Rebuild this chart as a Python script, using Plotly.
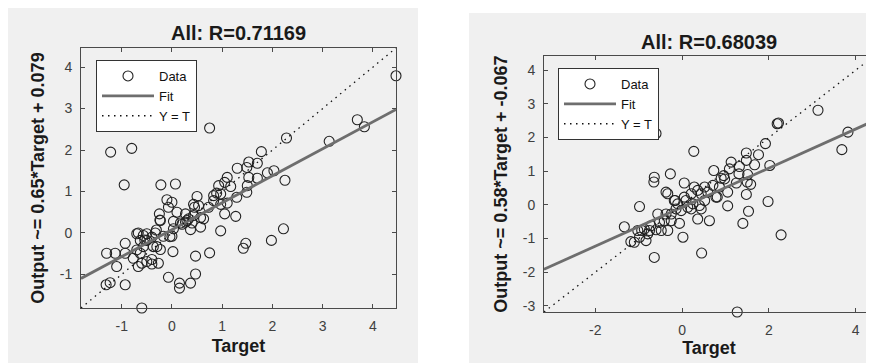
import plotly.graph_objects as go

# ---------------- data ----------------
left_title = "All: R=0.71169"
right_title = "All: R=0.68039"
left_ylabel = "Output ~= 0.65*Target + 0.079"
right_ylabel = "Output ~= 0.58*Target + -0.067"

left_slope, left_intercept = 0.65, 0.079
right_slope, right_intercept = 0.58, -0.067

left_limits = [-1.81, 4.46]
right_limits = [-3.18, 4.42]

left_target = [4.46, 3.69, 3.83, 3.13, 2.28, 0.75, -1.22, -0.80, -0.95, -0.22, 0.07, 1.78, 1.53, 1.70,
               1.49, 1.30, 1.90, 2.03, 2.25, 1.53, 1.70, 1.50, 1.49, 1.10, 1.05, 0.93, 0.89, 0.97, 0.83,
               1.10, 0.97, 1.05, 1.27, 0.97, 2.22, 1.98, 1.47, 1.42, 0.75, 0.47, 0.47, 0.37, 0.15, 0.15,
               -0.07, 0.02, -0.40, -0.27, -0.40, -0.60, -0.93, -1.23, -1.31, -1.10, -1.13, -1.30, -0.93,
               -0.93, -0.77, -0.67, -0.60, -0.50, -0.70, -0.63, -0.50, -0.57, -0.63, -0.70, -0.33, -0.30,
               -0.23, -0.17, 0.00, -0.25, -0.23, -0.10, 0.00, -0.07, 0.10, 0.03, 0.03, 0.27, 0.27, 0.33,
               0.40, 0.43, 0.43, 0.50, 0.53, 0.45, 0.37, 0.57, 0.57, 0.73, 0.20, -0.50, -0.57, -0.40,
               -0.37, 0.17, 0.30, 0.63, 1.29, 0.83, 1.17, -0.67, -0.54, -0.31, -0.04, -0.24]
left_output = [3.79, 2.73, 2.56, 2.21, 2.29, 2.53, 1.95, 2.04, 1.16, 1.16, 1.18, 1.96, 1.71, 1.68,
               1.58, 1.56, 1.45, 1.50, 1.27, 1.34, 1.32, 1.14, 0.98, 1.34, 1.22, 1.14, 0.96, 0.94, 0.90,
               0.72, 0.69, 0.46, 0.40, 0.05, 0.10, -0.18, -0.25, -0.37, -0.48, -0.56, -0.99, -1.21, -1.21,
               -1.33, -1.07, -0.45, -0.75, -0.73, -0.64, -1.81, -1.25, -1.20, -1.25, -0.81, -0.49, -0.49,
               -0.25, -0.49, -0.61, -0.81, -0.73, -0.69, -0.02, -0.18, -0.18, -0.33, -0.49, -0.41, 0.00,
               -0.33, -0.40, -0.08, -0.08, 0.46, 0.30, 0.80, 0.74, 0.62, 0.50, 0.28, 0.10, 0.46, 0.26,
               0.34, 0.24, 0.42, 0.69, 0.88, 0.66, 0.62, 0.08, 0.14, 0.37, 0.62, 0.21, -0.02, -0.06,
               -0.10, -0.33, 0.24, 0.30, 0.34, 0.86, 0.78, 1.12, 0.00, -0.17, 0.07, -0.09, 0.31]

right_target = [4.42, 3.82, 3.68, 3.13, 2.22, 2.19, 1.92, 2.02, 1.76, 1.48, 1.48, 1.67, 1.51, 1.58,
                1.50, 1.48, 1.53, 1.40, 1.98, 2.28, 1.27, 1.09, 0.96, 0.90, 0.98, 1.31, 0.73, 1.05,
                1.05, 0.81, 0.63, 0.45, 0.27, -0.60, -0.64, -0.65, -0.27, 0.05, -0.98, -1.33, -1.10,
                -1.18, -0.98, -1.02, -0.83, -0.64, 0.02, -0.06, 0.36, -0.33, -0.41, -0.72, -0.60, -0.75,
                -0.52, -0.56, -0.48, -0.25, -0.33, -0.37, -0.18, -0.10, 0.09, 0.21, 0.28, 0.36, 0.44,
                0.52, 0.52, 0.40, 0.25, 0.13, -0.02, -0.14, -0.25, -0.37, 0.21, 0.44, 0.59, 0.71, 0.78,
                0.86, -0.16, 0.05, -0.87, -0.79, -0.93, 1.25, 1.13, 1.32]
right_output = [2.71, 2.16, 1.64, 2.81, 2.43, 2.41, 1.82, 1.17, 1.49, 1.54, 1.32, 1.19, 0.90, 0.61,
                0.68, 0.31, -0.19, -0.55, 0.10, -0.89, -3.18, 1.07, 0.87, 0.79, 0.77, 0.92, 1.02, 0.38,
                -0.03, 0.23, -0.47, -1.43, 1.59, 2.12, 0.82, 0.68, 0.92, 0.65, -0.05, -0.65, -1.11,
                -1.09, -0.96, -0.76, -1.06, -1.56, -0.96, -0.55, -0.42, -0.76, -0.47, -0.62, -0.74, -0.76,
                -0.52, -0.27, -0.76, -0.27, 0.33, 0.38, 0.13, 0.03, 0.13, 0.33, 0.53, 0.43, 0.33,
                0.53, 0.13, -0.02, 0.03, -0.07, -0.17, -0.12, -0.47, -0.27, -0.12, -0.12, 0.38, 0.58, 0.23,
                0.53, 0.13, 0.23, -0.72, -0.86, -0.76, 0.65, 1.27, 1.14]

left_ticks = [-1, 0, 1, 2, 3, 4]
left_ticktext = ["-1", "0", "1", "2", "3", "4"]
right_xticks = [-2, 0, 2, 4]
right_xticktext = ["-2", "0", "2", "4"]
right_yticks = [-3, -2, -1, 0, 1, 2, 3, 4]
right_yticktext = ["-3", "-2", "-1", "0", "1", "2", "3", "4"]

# ---------------- styles ----------------
FONT = "Liberation Sans, Arial, sans-serif"
AXCOL = "#4a4a4a"
TICKFONT = dict(family=FONT, size=14, color="#404040")
TITLEFONT = dict(family=FONT, size=18, color="#1a1a1a")
MARKER = dict(symbol="circle-open", size=10, color="#222222", line=dict(width=1.1, color="#222222"))
FITLINE = dict(color="#6e6e6e", width=2.8)
IDLINE = dict(color="#111111", width=1.3, dash="1.5px,4.5px")

fig = go.Figure()


def add_panel(xa, ya, legend, target, output, slope, intercept, lims):
    xs = "x" if xa == 1 else f"x{xa}"
    ys = "y" if ya == 1 else f"y{ya}"
    fig.add_trace(go.Scatter(x=target, y=output, mode="markers", name="Data", marker=MARKER,
                             xaxis=xs, yaxis=ys, legend=legend, cliponaxis=False))
    fig.add_trace(go.Scatter(x=lims, y=[slope * v + intercept for v in lims], mode="lines",
                             name="Fit", line=FITLINE, xaxis=xs, yaxis=ys, legend=legend))
    fig.add_trace(go.Scatter(x=lims, y=lims, mode="lines", name="Y = T", line=IDLINE,
                             xaxis=xs, yaxis=ys, legend=legend))


add_panel(1, 1, "legend", left_target, left_output, left_slope, left_intercept, left_limits)
add_panel(2, 2, "legend2", right_target, right_output, right_slope, right_intercept, right_limits)

# page has an 8px body margin, so the figure is 8px smaller and shifted
OFF = 8
W, H = 874 - OFF, 363 - OFF


def px_x(v):
    return min(max((v - OFF) / W, 0), 1)


def px_y(v):
    return min(max(1 - (v - OFF) / H, 0), 1)


axis_common = dict(showline=True, linecolor=AXCOL, linewidth=1, mirror="ticks", ticks="inside",
                   ticklen=4, tickcolor=AXCOL, tickwidth=1, showgrid=False, zeroline=False,
                   tickfont=TICKFONT, ticklabelstandoff=5, automargin=False)

LEGFONT = dict(family=FONT, size=13, color="#111111")

fig.update_layout(
    template="none",
    width=W, height=H,
    margin=dict(l=0, r=0, t=0, b=0),
    paper_bgcolor="white", plot_bgcolor="white",
    showlegend=True,
    xaxis=dict(domain=[px_x(81), px_x(396)], anchor="y", range=left_limits,
               tickvals=left_ticks, ticktext=left_ticktext,
               title=dict(text="<b>Target</b>", font=TITLEFONT, standoff=6), **axis_common),
    yaxis=dict(domain=[px_y(308), px_y(48)], anchor="x", range=left_limits,
               tickvals=left_ticks, ticktext=left_ticktext,
               title=dict(text=f"<b>{left_ylabel}</b>", font=TITLEFONT, standoff=10), **axis_common),
    xaxis2=dict(domain=[px_x(544), px_x(874)], anchor="y2", range=right_limits,
                tickvals=right_xticks, ticktext=right_xticktext,
                title=dict(text="<b>Target</b>", font=TITLEFONT, standoff=2), **axis_common),
    yaxis2=dict(domain=[px_y(312), px_y(56)], anchor="x2", range=right_limits,
                tickvals=right_yticks, ticktext=right_yticktext,
                title=dict(text=f"<b>{right_ylabel}</b>", font=TITLEFONT, standoff=10), **axis_common),
    legend=dict(x=px_x(96), y=px_y(60), xanchor="left", yanchor="top", bgcolor="white",
                bordercolor="#333333", borderwidth=1, font=LEGFONT, itemwidth=52, tracegroupgap=0),
    legend2=dict(x=px_x(558), y=px_y(68), xanchor="left", yanchor="top", bgcolor="white",
                 bordercolor="#333333", borderwidth=1, font=LEGFONT, itemwidth=52, tracegroupgap=0),
    shapes=[
        dict(type="rect", xref="paper", yref="paper", x0=px_x(8), x1=px_x(418), y0=0, y1=px_y(7),
             fillcolor="#f0f0f0", line=dict(width=0), layer="below"),
        dict(type="rect", xref="paper", yref="paper", x0=px_x(469), x1=1, y0=0, y1=px_y(13),
             fillcolor="#f0f0f0", line=dict(width=0), layer="below"),
    ],
    annotations=[
        dict(text=f"<b>{left_title}</b>", xref="paper", yref="paper", x=px_x(238.5), y=px_y(33),
             xanchor="center", yanchor="middle", showarrow=False, font=dict(family=FONT, size=20, color="#1a1a1a")),
        dict(text=f"<b>{right_title}</b>", xref="paper", yref="paper", x=px_x(709), y=px_y(42),
             xanchor="center", yanchor="middle", showarrow=False, font=dict(family=FONT, size=20, color="#1a1a1a")),
    ],
)

fig.write_html("out.html")
